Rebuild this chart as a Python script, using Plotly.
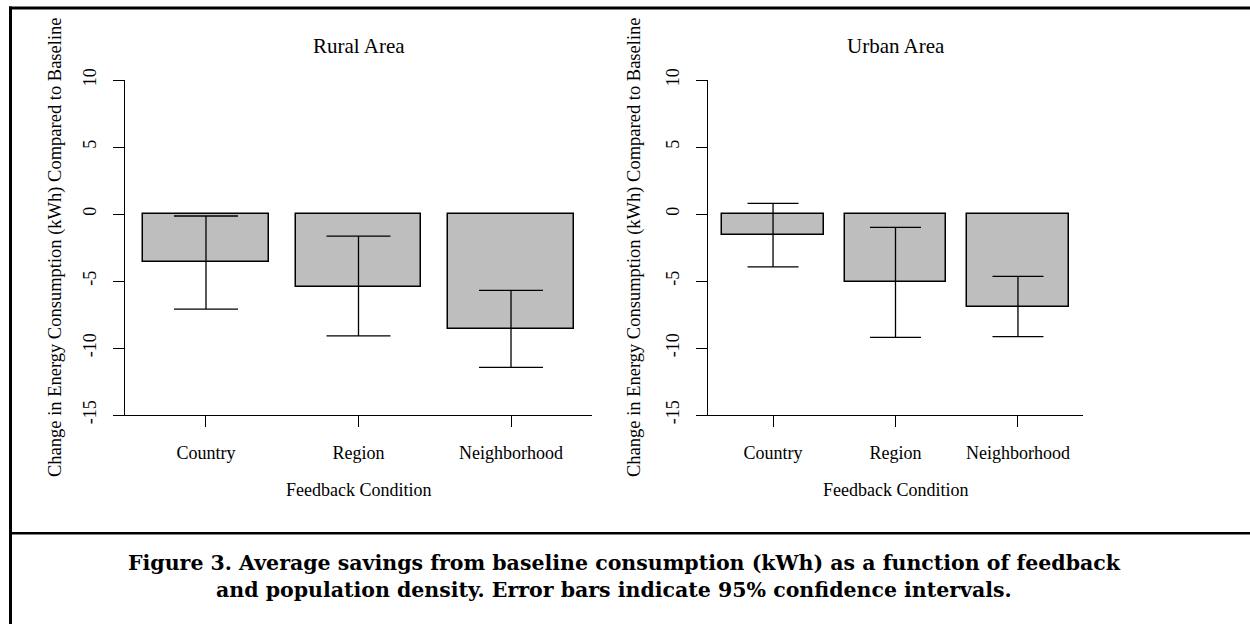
import plotly.graph_objects as go

# ---- data ----
categories = ["Country", "Region", "Neighborhood"]
rural_mean = [-3.6, -5.45, -8.6]
rural_upper = [-0.15, -1.65, -5.7]
rural_lower = [-7.1, -9.1, -11.45]
urban_mean = [-1.55, -5.1, -6.95]
urban_upper = [0.8, -1.0, -4.65]
urban_lower = [-3.95, -9.2, -9.15]
y_ticks = [-15, -10, -5, 0, 5, 10]
y_tick_text = ["-15", "-10", "-5", "0", "5", "10"]
panel_titles = ["Rural Area", "Urban Area"]
y_title = "Change in Energy Consumption (kWh) Compared to Baseline"
x_title = "Feedback Condition"
caption_1 = "Figure 3. Average savings from baseline consumption (kWh) as a function of feedback"
caption_2 = "and population density. Error bars indicate 95% confidence intervals."

W, H = 1250, 624
FONT = "Liberation Serif"
BAR = "#bebebe"


def px_x(p):
    return p / W


def px_y(p):
    return 1 - p / H


fig = go.Figure()


def add_panel(means, up, lo, xa, ya, capw):
    fig.add_trace(go.Bar(
        x=list(range(len(categories))), y=means, width=0.826,
        marker=dict(color=BAR, line=dict(color="#000000", width=1.5)),
        error_y=dict(type="data", symmetric=False,
                     array=[u - m for u, m in zip(up, means)],
                     arrayminus=[m - l for m, l in zip(means, lo)],
                     color="#000000", thickness=1.3, width=capw),
        xaxis=xa, yaxis=ya, showlegend=False, hoverinfo="skip"))


add_panel(rural_mean, rural_upper, rural_lower, "x", "y", 32)
add_panel(urban_mean, urban_upper, urban_lower, "x2", "y2", 25.5)

ydom = [px_y(415), px_y(80)]
xdom1 = [px_x(125), px_x(592)]
xdom2 = [px_x(708), px_x(1083)]

xcommon = dict(range=[-0.531, 2.531], tickmode="array", tickvals=[0, 1, 2],
               ticktext=categories, ticks="outside", ticklen=11, tickwidth=1.2,
               tickcolor="#000", showline=True, linecolor="#000", linewidth=1.3,
               showgrid=False, zeroline=False, ticklabelstandoff=10,
               tickfont=dict(family=FONT, size=18, color="#000"))
ycommon = dict(range=[-15, 10], tickmode="array", tickvals=y_ticks,
               ticktext=y_tick_text,
               ticks="outside", ticklen=11, tickwidth=1.2, tickcolor="#000",
               showline=True, linecolor="#000", linewidth=1.3, showgrid=False,
               zeroline=False, tickangle=-90, ticklabelstandoff=10,
               tickfont=dict(family=FONT, size=18, color="#000"))

fig.update_layout(
    width=W, height=H, autosize=False,
    margin=dict(l=0, r=0, t=0, b=0, autoexpand=False),
    paper_bgcolor="white", plot_bgcolor="white",
    bargap=0,
    xaxis=dict(domain=xdom1, anchor="y", **xcommon),
    yaxis=dict(domain=ydom, anchor="x", **ycommon),
    xaxis2=dict(domain=xdom2, anchor="y2", **xcommon),
    yaxis2=dict(domain=ydom, anchor="x2", **ycommon),
)

ann = []
for cx, t in zip([358.5, 895.5], panel_titles):
    ann.append(dict(x=px_x(cx), y=px_y(46), xref="paper", yref="paper",
                    text=t, showarrow=False, xanchor="center", yanchor="middle",
                    font=dict(family=FONT, size=21, color="#000")))
for cx in [358.5, 895.5]:
    ann.append(dict(x=px_x(cx), y=px_y(490), xref="paper", yref="paper",
                    text=x_title, showarrow=False, xanchor="center", yanchor="middle",
                    font=dict(family=FONT, size=18, color="#000")))
for cx in [56, 635]:
    ann.append(dict(x=px_x(cx), y=px_y(247), xref="paper", yref="paper",
                    text=y_title, showarrow=False, xanchor="center", yanchor="middle",
                    textangle=-90,
                    font=dict(family=FONT, size=18.5, color="#000")))
for cx, cy, t in [(624, 563, caption_1), (614, 590, caption_2)]:
    ann.append(dict(x=px_x(cx), y=px_y(cy), xref="paper", yref="paper",
                    text="<b>" + t + "</b>", showarrow=False, xanchor="center",
                    yanchor="middle",
                    font=dict(family="DejaVu Serif", size=20.5, color="#000")))
fig.update_layout(annotations=ann)

shapes = [
    dict(type="line", xref="paper", yref="paper", x0=px_x(9), x1=1.0,
         y0=px_y(8), y1=px_y(8), line=dict(color="#000", width=3)),
    dict(type="line", xref="paper", yref="paper", x0=px_x(10.5), x1=px_x(10.5),
         y0=px_y(6.5), y1=0, line=dict(color="#000", width=3)),
    dict(type="line", xref="paper", yref="paper", x0=px_x(9), x1=1.0,
         y0=px_y(533.3), y1=px_y(533.3), line=dict(color="#000", width=2.5)),
]
fig.update_layout(shapes=shapes)

fig.write_html("out.html", config=dict(displayModeBar=False),
               post_script="document.body.style.margin='0';document.body.style.overflow='hidden';")
